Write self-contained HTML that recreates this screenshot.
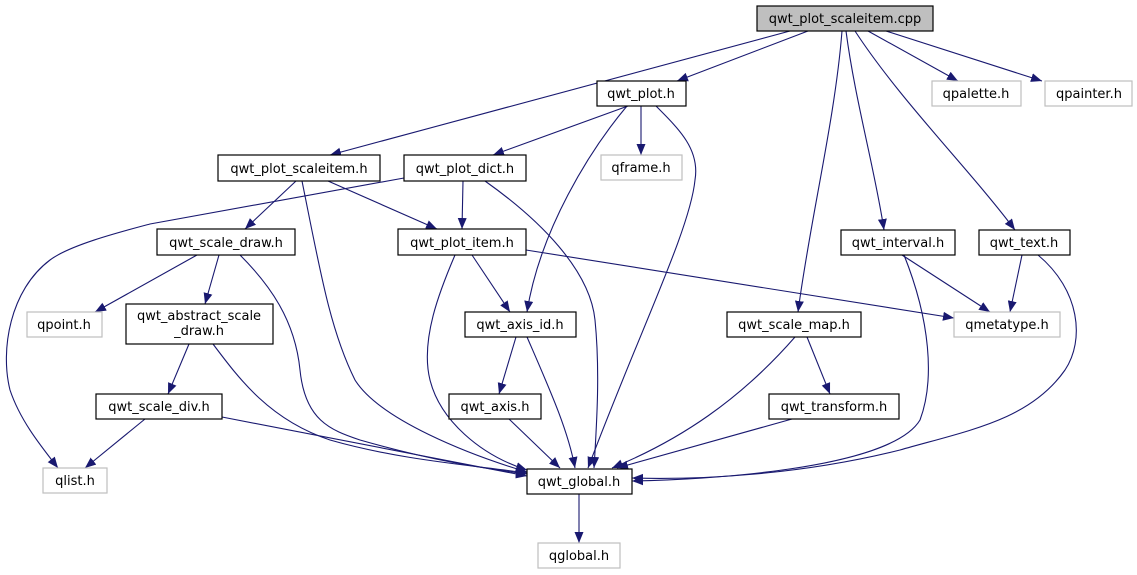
<!DOCTYPE html>
<html><head><meta charset="utf-8"><style>
html,body{margin:0;padding:0;background:#fff;}
svg{display:block;}
text{font-family:"DejaVu Sans","Liberation Sans",sans-serif;font-size:13px;fill:#000;}
.n{fill:#fff;stroke:#000;stroke-width:1.2;}
.g{fill:#fff;stroke:#bfbfbf;stroke-width:1.2;}
.e{fill:none;stroke:#191970;stroke-width:1.1;marker-end:url(#a);}
</style></head><body>
<svg width="1137" height="575" viewBox="0 0 1137 575">
<defs><marker id="a" markerUnits="userSpaceOnUse" markerWidth="12" markerHeight="10" refX="11" refY="4.5" orient="auto"><path d="M0,0 L11,4.5 L0,9 z" fill="#191970"/></marker></defs>
<g>
<path class="e" d="M790,31 L330,155"/>
<path class="e" d="M808,31 L677,81"/>
<path class="e" d="M842,31 C835,120 810,220 798,312"/>
<path class="e" d="M846,31 C855,100 875,170 884,230"/>
<path class="e" d="M855,31 C900,100 970,170 1015,230"/>
<path class="e" d="M868,31 L958,81"/>
<path class="e" d="M886,31 L1042,81"/>
<path class="e" d="M628,106 L493,155"/>
<path class="e" d="M641,106 L641,155"/>
<path class="e" d="M627,106 C590,150 540,230 527,312"/>
<path class="e" d="M656,106 C680,130 700,150 695,180 C690,230 640,330 588,468"/>
<path class="e" d="M296,181 L245,229"/>
<path class="e" d="M302,181 C320,270 330,330 355,380 C380,420 470,455 527,472"/>
<path class="e" d="M328,181 L437,229"/>
<path class="e" d="M404,178 L150,224 C120,232 70,245 50,260 C10,290 0,350 10,390 C20,420 40,445 58,468"/>
<path class="e" d="M463,181 L462,229"/>
<path class="e" d="M485,181 C540,220 590,270 595,320 C600,370 597,420 594,468"/>
<path class="e" d="M197,255 L95,312"/>
<path class="e" d="M219,255 L205,304"/>
<path class="e" d="M240,255 C270,285 295,320 300,370 C305,420 330,430 360,440 C430,460 480,468 527,474"/>
<path class="e" d="M526,250 L954,318"/>
<path class="e" d="M472,255 L510,312"/>
<path class="e" d="M455,255 C440,290 420,340 430,380 C440,420 480,455 527,470"/>
<path class="e" d="M189,344 L168,394"/>
<path class="e" d="M213,344 C240,380 270,420 330,440 C400,460 470,465 527,473"/>
<path class="e" d="M145,419 L85,468"/>
<path class="e" d="M222,417 L527,476"/>
<path class="e" d="M516,337 L499,394"/>
<path class="e" d="M527,337 C550,390 568,430 575,468"/>
<path class="e" d="M509,419 L560,468"/>
<path class="e" d="M795,337 C740,400 680,440 612,468"/>
<path class="e" d="M807,337 L830,394"/>
<path class="e" d="M792,419 L617,468"/>
<path class="e" d="M902,255 L990,312"/>
<path class="e" d="M904,255 C930,320 935,380 920,420 C890,470 700,480 632,481"/>
<path class="e" d="M1022,255 L1010,312"/>
<path class="e" d="M1038,255 C1080,290 1085,340 1065,370 C1030,420 970,430 900,450 C800,475 700,480 632,478"/>
<path class="e" d="M579,494 L579,543"/>
</g>
<g>
<rect x="757" y="6" width="176" height="25" fill="#bfbfbf" stroke="#000" stroke-width="1.2"/><text x="845" y="23" text-anchor="middle">qwt_plot_scaleitem.cpp</text>
<rect class="n" x="597" y="81" width="89" height="25"/><text x="641" y="98" text-anchor="middle">qwt_plot.h</text>
<rect class="g" x="932" y="81" width="89" height="25"/><text x="976" y="98" text-anchor="middle">qpalette.h</text>
<rect class="g" x="1045" y="81" width="87" height="25"/><text x="1089" y="98" text-anchor="middle">qpainter.h</text>
<rect class="n" x="218" y="155" width="162" height="26"/><text x="299" y="173" text-anchor="middle">qwt_plot_scaleitem.h</text>
<rect class="n" x="404" y="155" width="122" height="26"/><text x="465" y="173" text-anchor="middle">qwt_plot_dict.h</text>
<rect class="g" x="601" y="155" width="81" height="25"/><text x="641" y="172" text-anchor="middle">qframe.h</text>
<rect class="n" x="157" y="229" width="138" height="26"/><text x="226" y="247" text-anchor="middle">qwt_scale_draw.h</text>
<rect class="n" x="398" y="229" width="128" height="26"/><text x="462" y="247" text-anchor="middle">qwt_plot_item.h</text>
<rect class="n" x="841" y="230" width="114" height="25"/><text x="898" y="247" text-anchor="middle">qwt_interval.h</text>
<rect class="n" x="979" y="230" width="91" height="25"/><text x="1024" y="247" text-anchor="middle">qwt_text.h</text>
<rect class="g" x="27" y="312" width="75" height="25"/><text x="64" y="329" text-anchor="middle">qpoint.h</text>
<rect class="n" x="126" y="304" width="147" height="40"/><text x="199" y="320" text-anchor="middle">qwt_abstract_scale</text><text x="199" y="335" text-anchor="middle">_draw.h</text>
<rect class="n" x="465" y="312" width="111" height="25"/><text x="520" y="329" text-anchor="middle">qwt_axis_id.h</text>
<rect class="n" x="727" y="312" width="134" height="25"/><text x="794" y="329" text-anchor="middle">qwt_scale_map.h</text>
<rect class="g" x="954" y="312" width="106" height="25"/><text x="1007" y="329" text-anchor="middle">qmetatype.h</text>
<rect class="n" x="96" y="394" width="126" height="25"/><text x="159" y="411" text-anchor="middle">qwt_scale_div.h</text>
<rect class="n" x="449" y="394" width="92" height="25"/><text x="495" y="411" text-anchor="middle">qwt_axis.h</text>
<rect class="n" x="769" y="394" width="130" height="25"/><text x="834" y="411" text-anchor="middle">qwt_transform.h</text>
<rect class="g" x="43" y="468" width="64" height="25"/><text x="75" y="485" text-anchor="middle">qlist.h</text>
<rect class="n" x="527" y="469" width="105" height="25"/><text x="579" y="486" text-anchor="middle">qwt_global.h</text>
<rect class="g" x="538" y="543" width="82" height="25"/><text x="579" y="560" text-anchor="middle">qglobal.h</text>
</g>
</svg>
</body></html>
